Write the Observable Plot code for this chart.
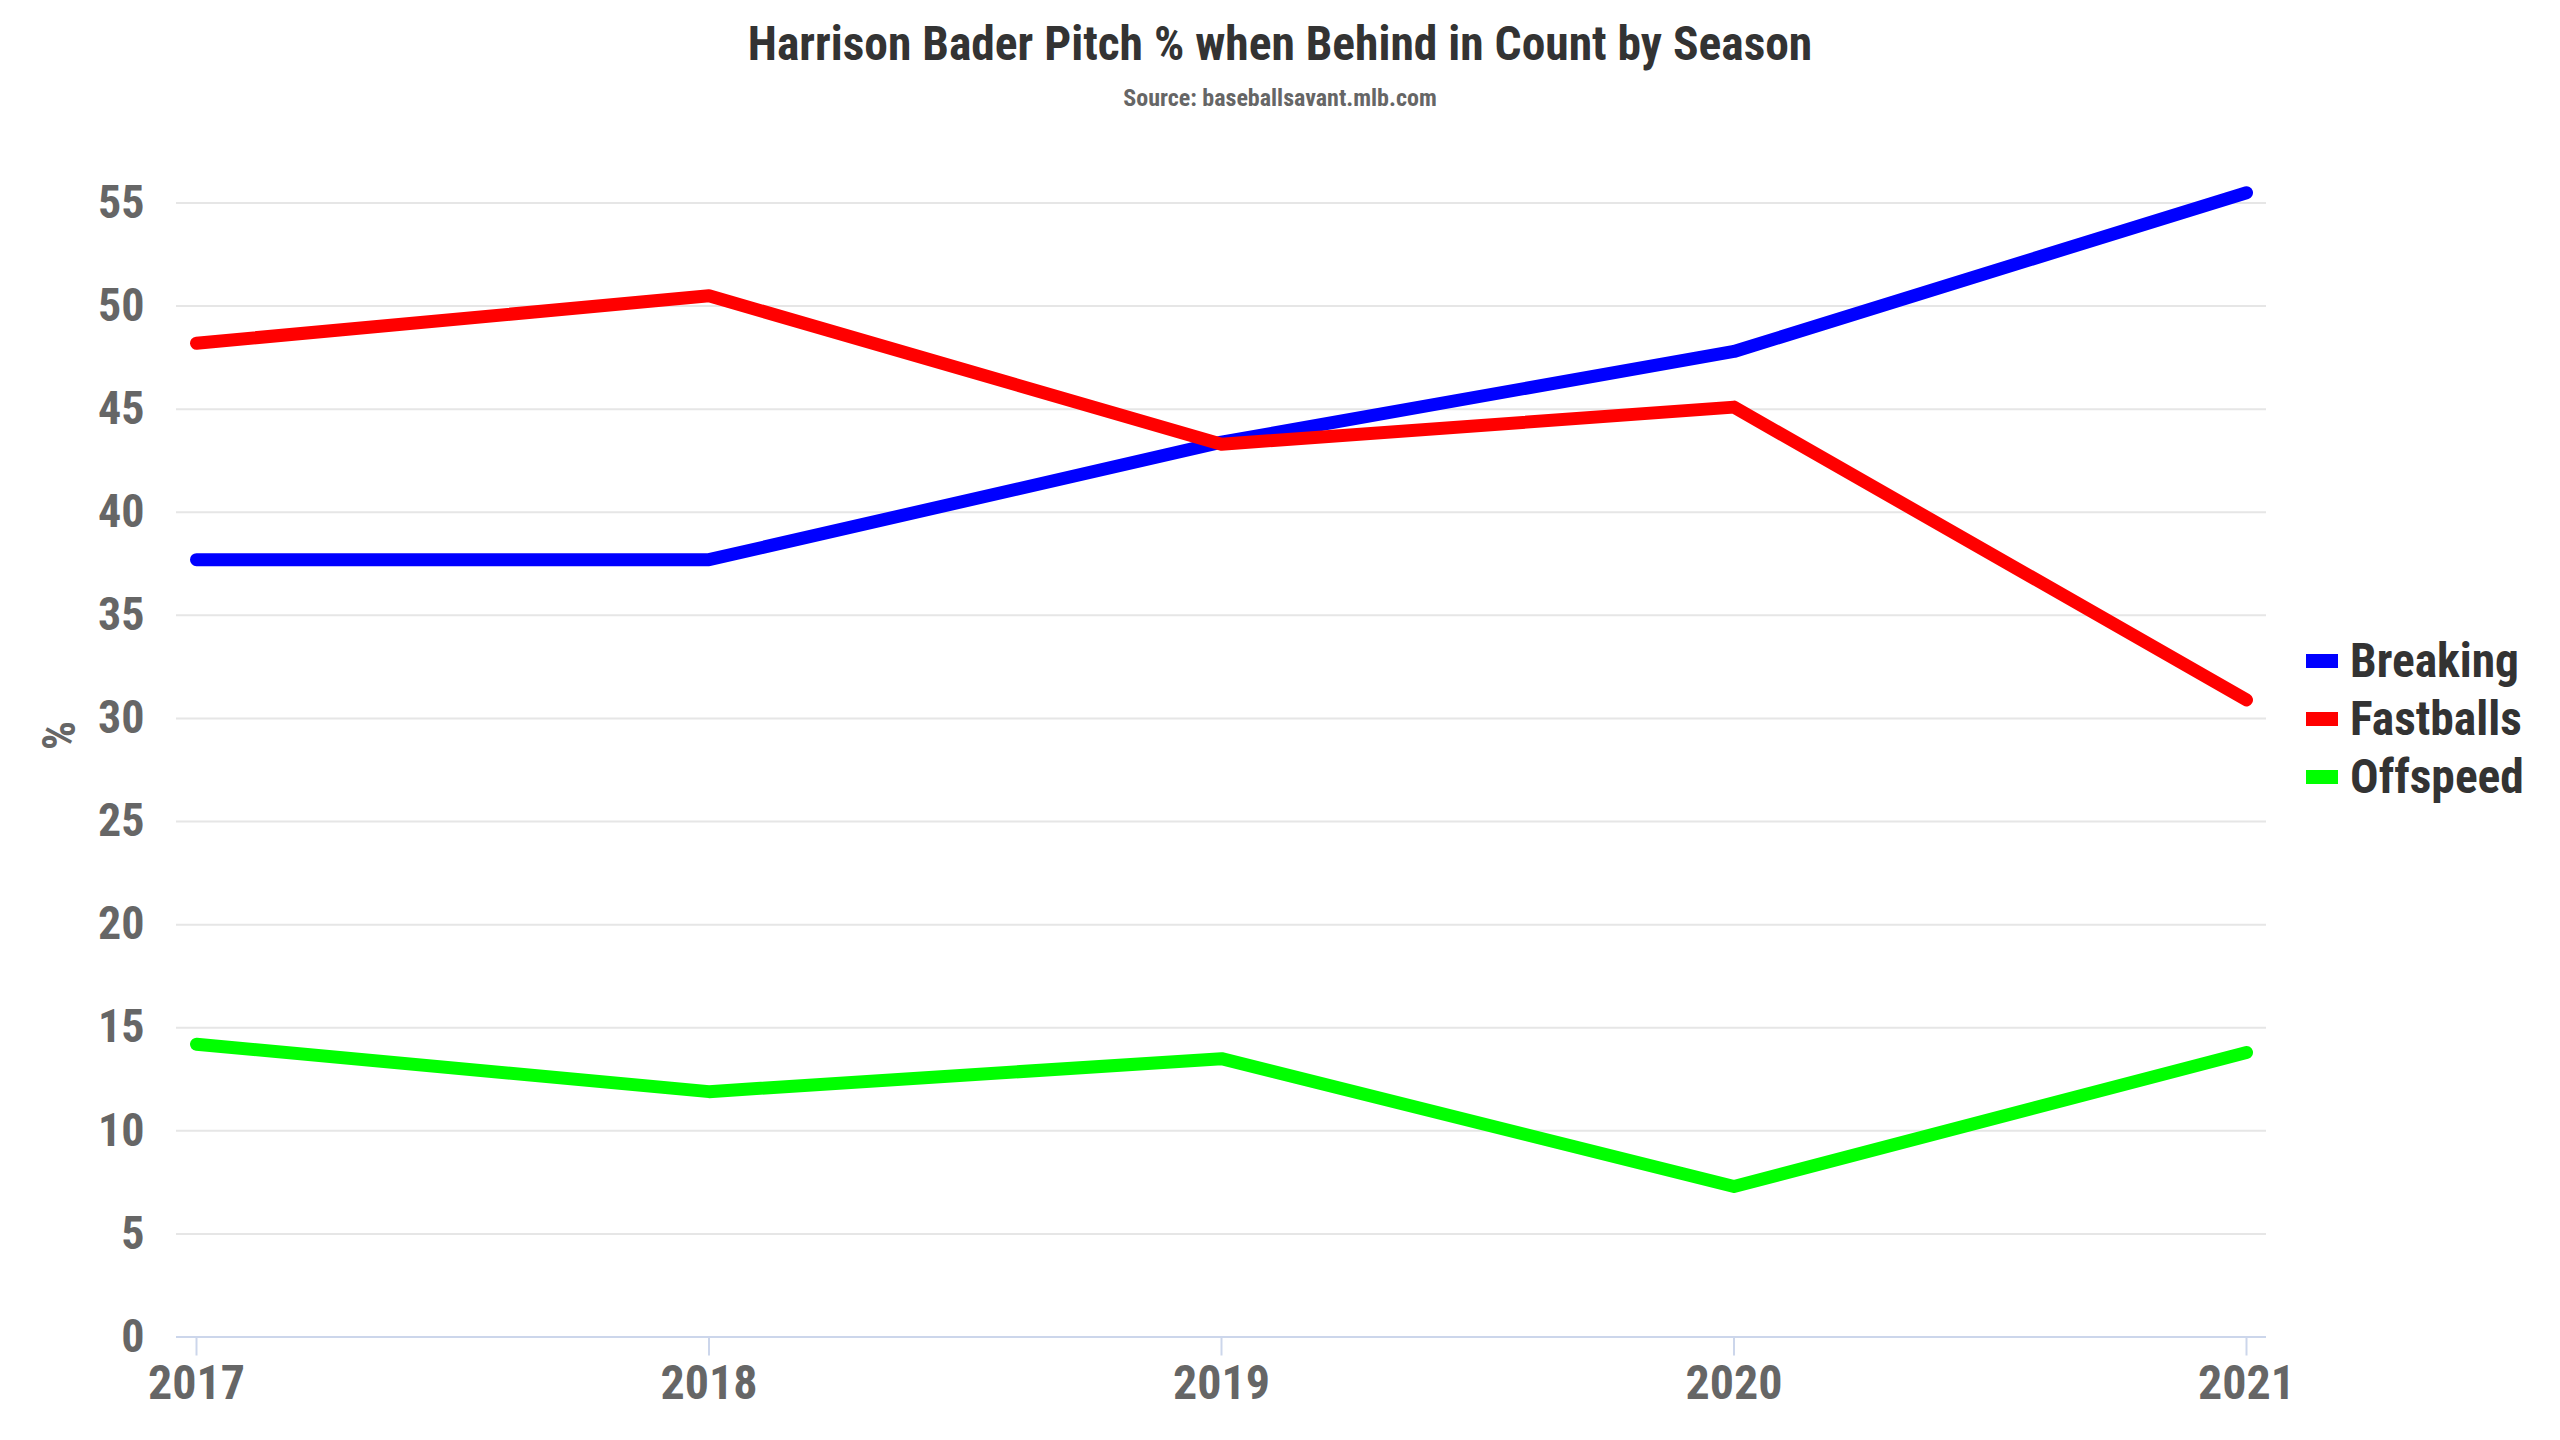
<!DOCTYPE html>
<html>
<head>
<meta charset="utf-8">
<script src="https://cdn.jsdelivr.net/npm/d3@7"></script>
<script src="https://cdn.jsdelivr.net/npm/@observablehq/plot@0.6"></script>
<style>
  html, body { margin: 0; padding: 0; background: #fff; }
  body { width: 2560px; height: 1440px; position: relative; overflow: hidden;
         font-family: "Roboto Condensed", "Roboto", sans-serif; font-weight: 700; }
  #header { height: 130px; }
  #title { position: absolute; left: 0; width: 2560px; top: 21px; text-align: center;
           font-size: 47.5px; line-height: 47.5px; color: #333; }
  #subtitle { position: absolute; left: 0; width: 2560px; top: 86px; text-align: center;
              font-size: 24px; line-height: 24px; color: #666; }
  #legend { position: absolute; left: 2306px; top: 632px; }
  .item { display: flex; align-items: center; height: 58px; }
  .sw { width: 32px; height: 14px; margin-right: 12px; }
  .lab { font-size: 47.5px; color: #333; }
</style>
</head>
<body>
<div id="header">
  <div id="title">Harrison Bader Pitch % when Behind in Count by Season</div>
  <div id="subtitle">Source: baseballsavant.mlb.com</div>
</div>
<div id="chart"></div>
<div id="legend"></div>
<script>
const years = [2017, 2018, 2019, 2020, 2021];
const seriesNames = ["Breaking", "Fastballs", "Offspeed"];
const seriesColors = ["#0000ff", "#ff0000", "#00ff00"];
const breaking  = [37.7, 37.7, 43.4, 47.8, 55.5];
const fastballs = [48.2, 50.5, 43.3, 45.1, 30.9];
const offspeed  = [14.2, 11.9, 13.5, 7.3, 13.8];
const yTicks = [0, 5, 10, 15, 20, 25, 30, 35, 40, 45, 50, 55];
const yLabel = "%";

const seriesValues = [breaking, fastballs, offspeed];
const rows = seriesNames.flatMap((s, i) =>
  years.map((yr, j) => ({year: yr, value: seriesValues[i][j], series: s})));

const font = '"Roboto Condensed", "Roboto", sans-serif';

const chart = Plot.plot({
  width: 2560,
  height: 1310,
  marginLeft: 176,
  marginRight: 294,
  marginTop: 72.5,
  marginBottom: 103.5,
  x: {domain: [2017, 2021], inset: 20},
  y: {domain: [0, 55]},
  color: {domain: seriesNames, range: seriesColors},
  style: {fontFamily: font, color: "#666", background: "white", overflow: "visible"},
  marks: [
    Plot.gridY(yTicks, {stroke: "#e6e6e6", strokeOpacity: 1, strokeWidth: 2}),
    Plot.ruleY([0], {stroke: "#ccd6eb", strokeWidth: 2}),
    Plot.axisX(years, {tickSize: 19, tickPadding: 9, stroke: "#ccd6eb", strokeWidth: 2,
      fill: "#666", fontSize: 48, fontWeight: "bold", tickFormat: d => String(d), label: null}),
    Plot.axisY(yTicks, {tickSize: 0, tickPadding: 32, fill: "#666", fontSize: 46,
      fontWeight: "bold", label: null}),
    Plot.lineY(rows, {x: "year", y: "value", z: "series", stroke: "series",
      strokeWidth: 13, strokeLinecap: "round", strokeLinejoin: "round"}),
    Plot.text([yLabel], {text: d => d, frameAnchor: "left", dx: -116, dy: -34.5, rotate: -90,
      textAnchor: "middle", fill: "#666", fontSize: 46, fontWeight: "bold"})
  ]
});
document.getElementById("chart").appendChild(chart);

const legend = document.getElementById("legend");
seriesNames.forEach((name, i) => {
  const item = document.createElement("div");
  item.className = "item";
  const sw = document.createElement("div");
  sw.className = "sw";
  sw.style.background = seriesColors[i];
  const lab = document.createElement("span");
  lab.className = "lab";
  lab.textContent = name;
  item.appendChild(sw);
  item.appendChild(lab);
  legend.appendChild(item);
});
</script>
</body>
</html>
